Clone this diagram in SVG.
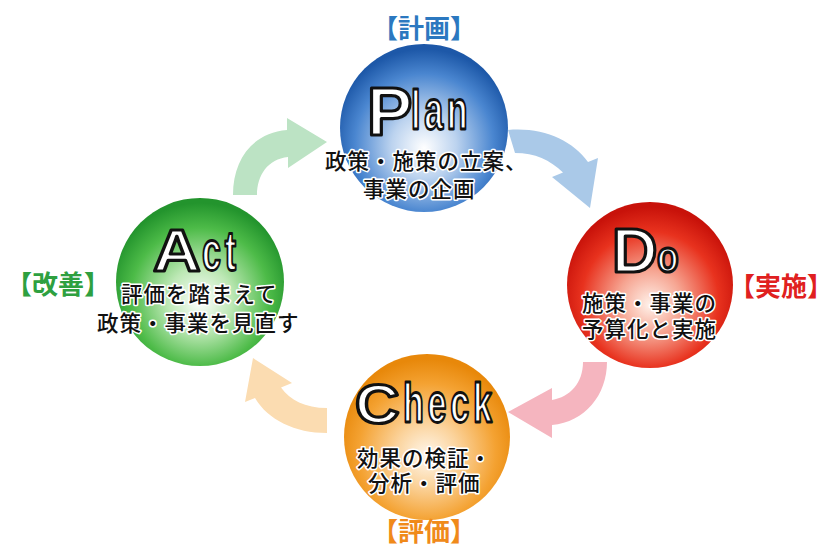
<svg xmlns="http://www.w3.org/2000/svg" width="825" height="548" viewBox="0 0 825 548">
<defs>
<radialGradient id="gPlan" cx="50%" cy="58%" r="55%" fx="50%" fy="62%">
<stop offset="0" stop-color="#ffffff"/><stop offset="0.35" stop-color="#bcd3ef"/><stop offset="0.75" stop-color="#4a86d0"/><stop offset="1" stop-color="#1d58a8"/>
</radialGradient>
<radialGradient id="gDo" cx="50%" cy="58%" r="55%" fx="50%" fy="62%">
<stop offset="0" stop-color="#fff2ea"/><stop offset="0.35" stop-color="#f6a592"/><stop offset="0.75" stop-color="#e8321e"/><stop offset="1" stop-color="#c8120a"/>
</radialGradient>
<radialGradient id="gAct" cx="50%" cy="58%" r="55%" fx="50%" fy="62%">
<stop offset="0" stop-color="#ffffff"/><stop offset="0.35" stop-color="#bde8b5"/><stop offset="0.75" stop-color="#4dbb48"/><stop offset="1" stop-color="#23942d"/>
</radialGradient>
<radialGradient id="gCheck" cx="50%" cy="58%" r="55%" fx="50%" fy="62%">
<stop offset="0" stop-color="#fff8ee"/><stop offset="0.35" stop-color="#fbd39c"/><stop offset="0.75" stop-color="#f4a232"/><stop offset="1" stop-color="#e8880a"/>
</radialGradient>
</defs>
<style>
.big{font-family:"Liberation Sans",Arial,sans-serif;font-weight:bold;fill:#fff;stroke:#111;stroke-width:3.2;stroke-linejoin:round}
.sm{font-family:"Liberation Sans",Arial,sans-serif;font-weight:bold;fill:#fff;stroke:#111;stroke-width:2.8;stroke-linejoin:round;font-size:55px;letter-spacing:6px}
.jp{font-family:"Noto Sans CJK JP","Noto Sans",sans-serif;font-size:21.5px;font-weight:500;letter-spacing:1px;fill:#111;stroke:#fff;stroke-width:3;paint-order:stroke;stroke-linejoin:round}
.lab{font-family:"Noto Sans CJK JP","Noto Sans",sans-serif;font-size:26px;font-weight:bold;text-anchor:middle}
</style>
<rect width="825" height="548" fill="#fff"/>
<g id="connectors">
<path d="M233,195 C233,160 252,133 287,130 L287,118 L327,142 L288,168 L288,157 C268,159 257,175 257,195 Z" fill="#bce3c4"/>
<path d="M508,130 C543,127 572,140 588,162 L598,158 L590,208 L552,177 L563,172.5 C550,160 535,153 515,153 Z" fill="#aac9e8"/>
<path d="M583,362 L607,362 C607,395 585,422 552,425 L552,438 L508,412 L552,388 L552,400 C570,397 583,383 583,362 Z" fill="#f5b5bf"/>
<path d="M327,408 L327,433 C295,433 268,420 255,398 L245,402 L253,358 L292,383 L281,387.5 C290,400 305,408 327,408 Z" fill="#fbdcb1"/>
</g>
<g id="plan">
<circle cx="424" cy="128" r="84" fill="url(#gPlan)"/>
<text class="big" x="367" y="135" font-size="68">P</text>
<text class="sm" transform="translate(411,129) scale(0.62,1)">lan</text>
<text class="jp" x="325" y="169">政策・施策の立案、</text>
<text class="jp" x="363" y="197">事業の企画</text>
<text class="lab" x="424" y="38" fill="#2b78c0">【計画】</text>
</g>
<g id="do">
<circle cx="650" cy="285" r="83" fill="url(#gDo)"/>
<text class="big" x="612" y="272" font-size="63">D</text>
<text class="big" transform="translate(657,272) scale(0.8,1)" font-size="44">o</text>
<text class="jp" x="582" y="311">施策・事業の</text>
<text class="jp" x="582" y="337">予算化と実施</text>
<text class="lab" x="781" y="296" fill="#e02020">【実施】</text>
</g>
<g id="act">
<circle cx="200" cy="282" r="84" fill="url(#gAct)"/>
<text class="big" transform="translate(153,271) scale(1.1,1)" font-size="60">A</text>
<text class="sm" transform="translate(202,270) scale(0.62,1)">ct</text>
<text class="jp" x="121" y="302">評価を踏まえて</text>
<text class="jp" x="97" y="331">政策・事業を見直す</text>
<text class="lab" x="58" y="294" fill="#2ea040">【改善】</text>
</g>
<g id="check">
<circle cx="427" cy="437" r="83" fill="url(#gCheck)"/>
<text class="big" transform="translate(355,423) scale(1.1,1)" font-size="56">C</text>
<text class="sm" transform="translate(403,422) scale(0.62,1)">heck</text>
<text class="jp" x="357" y="466">効果の検証・</text>
<text class="jp" x="368" y="491">分析・評価</text>
<text class="lab" x="424" y="541" fill="#f08a1a">【評価】</text>
</g>
</svg>
